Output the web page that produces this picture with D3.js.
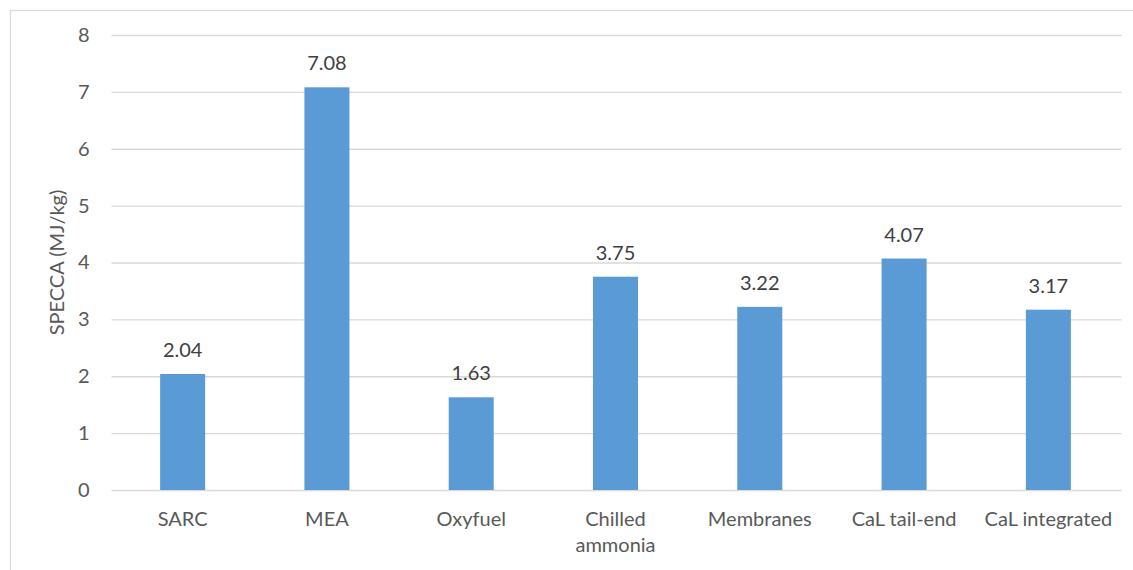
<!DOCTYPE html>
<html>
<head>
<meta charset="utf-8">
<script src="https://cdn.jsdelivr.net/npm/d3@7"></script>
<style>
  html, body { margin: 0; padding: 0; background: #fff; }
  svg { display: block; }
  text { font-family: Lato, "Open Sans", sans-serif; }
</style>
</head>
<body>
<svg id="chart" width="1133" height="570"></svg>
<script>
// Specific primary energy consumption for CO2 avoided, per capture technology
const categories = ["SARC", "MEA", "Oxyfuel", "Chilled ammonia", "Membranes", "CaL tail-end", "CaL integrated"];
const specca = [2.04, 7.08, 1.63, 3.75, 3.22, 4.07, 3.17];
const yTicks = [0, 1, 2, 3, 4, 5, 6, 7, 8];
const yLabel = "SPECCA (MJ/kg)";

const svg = d3.select("#chart");
const plot = { left: 110.5, right: 1120.5, top: 35, bottom: 490 };

// outer chart frame
svg.append("rect")
  .attr("x", 10.5).attr("y", 10.5)
  .attr("width", 1300).attr("height", 700)
  .attr("fill", "#fff").attr("stroke", "#d9d9d9").attr("stroke-width", 1.3);

const x = d3.scaleBand()
  .domain(categories)
  .range([plot.left, plot.right])
  .paddingInner(0.688)
  .paddingOuter(0.344);

const y = d3.scaleLinear()
  .domain([0, 8])
  .range([plot.bottom, plot.top]);

// horizontal gridlines + y tick labels
const yAxis = d3.axisLeft(y)
  .tickValues(yTicks)
  .tickSize(-(plot.right - plot.left))
  .tickPadding(22)
  .tickFormat(d3.format("d"));

const gy = svg.append("g")
  .attr("transform", `translate(${plot.left + 1},0)`)
  .call(yAxis);
gy.select(".domain").remove();
gy.selectAll(".tick line")
  .attr("stroke", "#d9d9d9").attr("stroke-width", 1.3);
gy.selectAll(".tick text")
  .attr("fill", "#595959")
  .attr("font-size", 20);

// bars
svg.append("g").selectAll("rect")
  .data(categories)
  .join("rect")
  .attr("x", d => x(d))
  .attr("width", x.bandwidth())
  .attr("y", (d, i) => y(specca[i]))
  .attr("height", (d, i) => y(0) - y(specca[i]))
  .attr("fill", "#5b9bd5");

// value labels above bars
svg.append("g").selectAll("text")
  .data(categories)
  .join("text")
  .attr("x", d => x(d) + x.bandwidth() / 2)
  .attr("y", (d, i) => y(specca[i]) - 17)
  .attr("text-anchor", "middle")
  .attr("font-size", 20)
  .attr("fill", "#404040")
  .text((d, i) => specca[i].toFixed(2));

// category axis labels, wrapped when wider than the slot
const xAxis = d3.axisBottom(x).tickSize(0).tickPadding(0);
const gx = svg.append("g")
  .attr("transform", `translate(0,${plot.bottom})`)
  .call(xAxis);
gx.select(".domain").remove();
gx.selectAll(".tick text")
  .attr("fill", "#595959")
  .attr("font-size", 20)
  .attr("dy", null)
  .attr("y", 35.5)
  .each(function(d) {
    const t = d3.select(this);
    const maxW = x.step() * 0.95;
    if (this.getComputedTextLength() <= maxW) return;
    const words = d.split(" ");
    t.text(null);
    words.forEach((w, i) => {
      t.append("tspan")
        .attr("x", 0)
        .attr("dy", i === 0 ? 0 : 26.5)
        .text(w);
    });
  });

// y-axis title
svg.append("text")
  .attr("transform", `translate(64,${(plot.top + plot.bottom) / 2}) rotate(-90)`)
  .attr("text-anchor", "middle")
  .attr("font-size", 20)
  .attr("fill", "#595959")
  .text(yLabel);
</script>
</body>
</html>
